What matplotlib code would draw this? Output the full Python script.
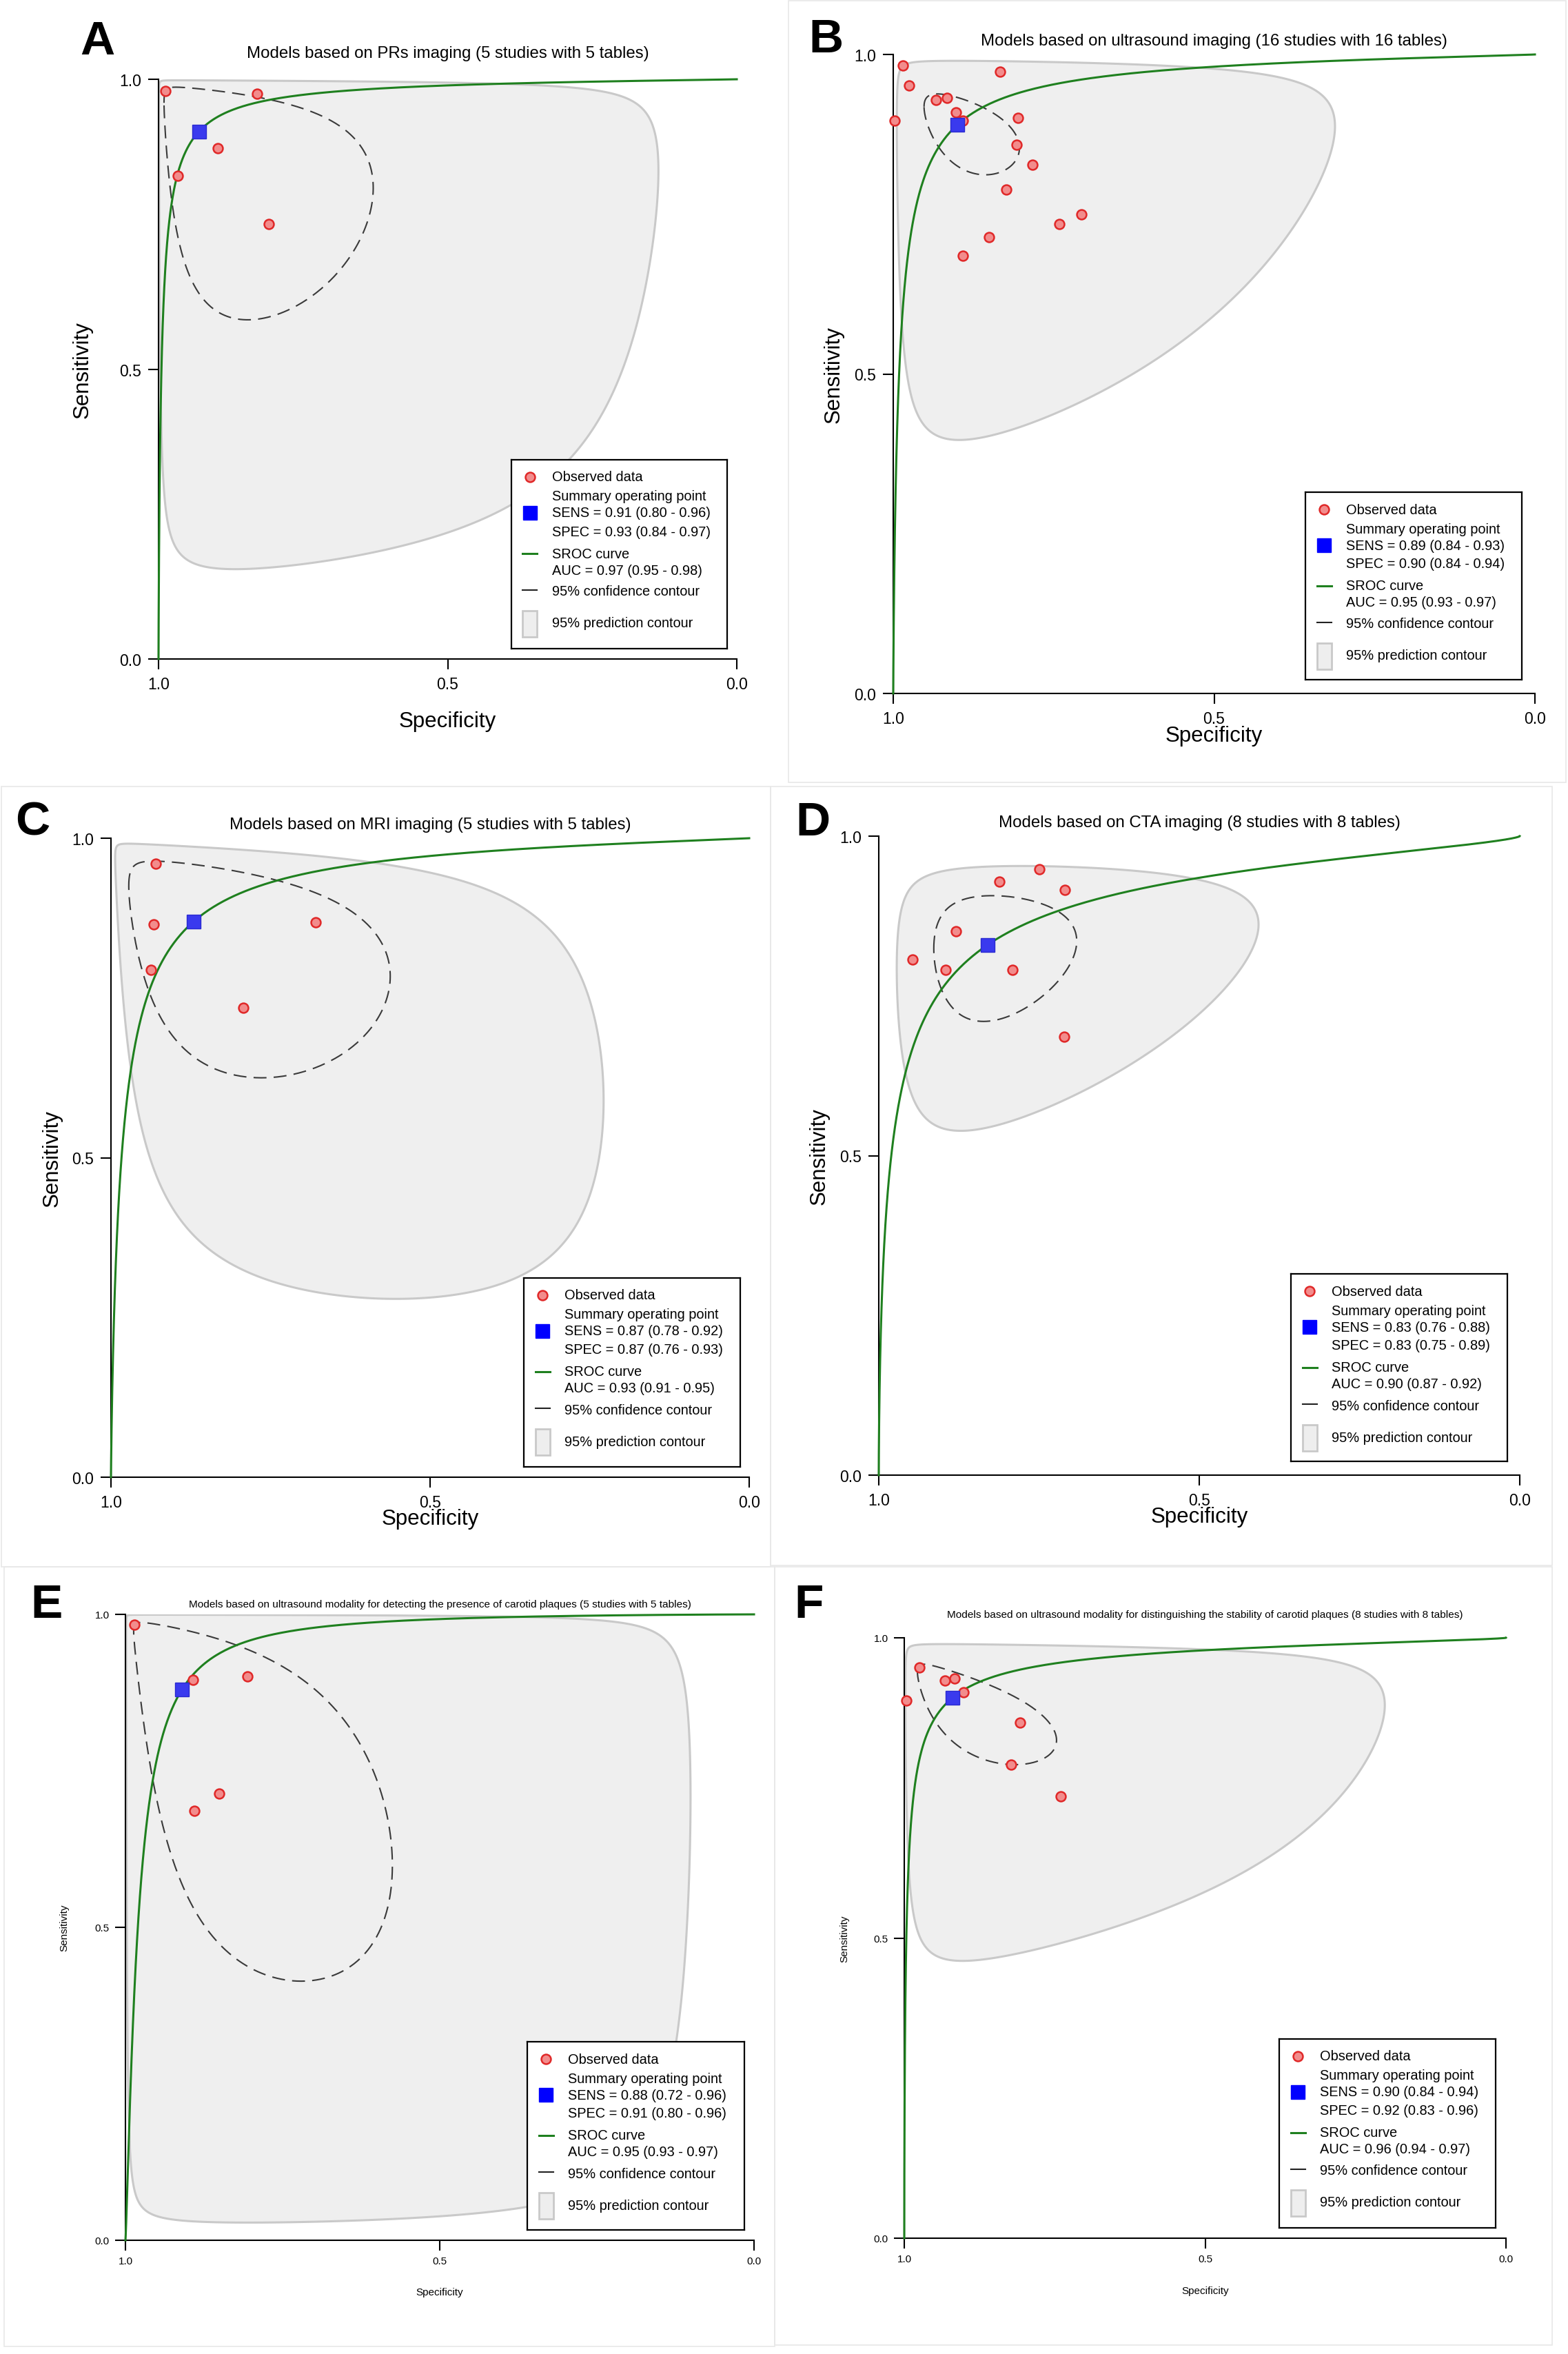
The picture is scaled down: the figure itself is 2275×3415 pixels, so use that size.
import numpy as np
import matplotlib
matplotlib.use('Agg')
import matplotlib.pyplot as plt
from matplotlib.patches import Polygon, Rectangle

plt.rcParams['font.family'] = ['Liberation Sans', 'DejaVu Sans']

W, H = 2275, 3416

# ---- data ----
letters = ['A', 'B', 'C', 'D', 'E', 'F']
titles = [
    'Models based on PRs imaging (5 studies with 5 tables)',
    'Models based on ultrasound imaging (16 studies with 16 tables)',
    'Models based on MRI imaging (5 studies with 5 tables)',
    'Models based on CTA imaging (8 studies with 8 tables)',
    'Models based on ultrasound modality for detecting the presence of carotid plaques (5 studies with 5 tables)',
    'Models based on ultrasound modality for distinguishing the stability of carotid plaques (8 studies with 8 tables)',
]

obs_spec = [
    [0.988, 0.829, 0.898, 0.967, 0.809],
    [0.985, 0.975, 0.998, 0.933, 0.916, 0.902, 0.891, 0.833, 0.806, 0.808,
     0.783, 0.824, 0.707, 0.741, 0.851, 0.891],
    [0.930, 0.933, 0.937, 0.793, 0.679],
    [0.750, 0.812, 0.710, 0.880, 0.947, 0.896, 0.791, 0.711],
    [0.986, 0.892, 0.806, 0.851, 0.890],
    [0.997, 0.975, 0.932, 0.916, 0.901, 0.807, 0.823, 0.740],
]
obs_sens = [
    [0.980, 0.975, 0.881, 0.834, 0.750],
    [0.983, 0.951, 0.896, 0.929, 0.932, 0.909, 0.896, 0.973, 0.901, 0.859,
     0.827, 0.789, 0.750, 0.735, 0.714, 0.685],
    [0.960, 0.865, 0.794, 0.735, 0.868],
    [0.948, 0.929, 0.916, 0.851, 0.807, 0.791, 0.791, 0.686],
    [0.983, 0.895, 0.901, 0.714, 0.686],
    [0.896, 0.951, 0.929, 0.932, 0.909, 0.859, 0.789, 0.736],
]

sum_sens = [0.91, 0.89, 0.87, 0.83, 0.88, 0.90]
sum_spec = [0.93, 0.90, 0.87, 0.83, 0.91, 0.92]
sens_ci = ['0.80 - 0.96', '0.84 - 0.93', '0.78 - 0.92', '0.76 - 0.88', '0.72 - 0.96', '0.84 - 0.94']
spec_ci = ['0.84 - 0.97', '0.84 - 0.94', '0.76 - 0.93', '0.75 - 0.89', '0.80 - 0.96', '0.83 - 0.96']
auc = ['0.97', '0.95', '0.93', '0.90', '0.95', '0.96']
auc_ci = ['0.95 - 0.98', '0.93 - 0.97', '0.91 - 0.95', '0.87 - 0.92', '0.93 - 0.97', '0.94 - 0.97']

# SROC slope on the logit scale, and contour half-widths / correlation (logit scale)
sroc_slope = [0.86, 0.84, 0.87, 0.68, 1.25, 0.68]
conf_w_spec = [2.06, 0.79, 1.65, 0.78, 2.01, 1.36]
conf_w_sens = [1.97, 0.63, 1.39, 0.69, 2.34, 0.88]
conf_rho = [0.43, 0.52, 0.44, -0.06, 0.68, 0.70]
pred_w_spec = [4.44, 2.99, 3.12, 1.96, 4.50, 3.82]
pred_w_sens = [4.01, 2.51, 2.85, 1.43, 5.53, 2.35]
pred_rho = [0.16, 0.01, 0.54, -0.17, 0.20, 0.055]


def logit(p):
    p = np.asarray(p, dtype=float)
    return np.log(p / (1 - p))


def expit(z):
    return 1 / (1 + np.exp(-z))


def contour(mx, my, wx, wy, rho):
    t = np.linspace(0, 2 * np.pi, 600)
    x = mx + wx * np.cos(t)
    y = my + wy * (rho * np.cos(t) + np.sqrt(1 - rho ** 2) * np.sin(t))
    return expit(x), expit(y)


fig = plt.figure(figsize=(W / 100, H / 100), dpi=100)


def px_axes(x0, y0, x1, y1):
    return fig.add_axes([x0 / W, 1 - y1 / H, (x1 - x0) / W, (y1 - y0) / H])


def ftext(x, y, s, **kw):
    fig.text(x / W, 1 - y / H, s, **kw)


# faint panel frames
for (x0, y0, x1, y1) in [(1144, 2, 2272, 1136), (2, 1142, 1118, 2274),
                         (1118, 1142, 2252, 2272), (6, 2274, 1124, 3405),
                         (1124, 2274, 2252, 3403)]:
    fig.add_artist(Rectangle((x0 / W, 1 - y1 / H), (x1 - x0) / W, (y1 - y0) / H,
                             transform=fig.transFigure, fill=False,
                             ec='#e8e8e8', lw=1.2))

# layout (pixels): axes box, title y, ylabel x, xlabel y, letter pos, legend box
ax_box = [(230, 116, 1069, 957), (1296, 80, 2227, 1007), (161, 1217, 1087, 2144),
          (1275, 1214, 2205, 2141), (182, 2343, 1094, 3251), (1312, 2377, 2185, 3248)]
title_y = [78, 60, 1197, 1194, 2328, 2343]
ylab_x = [120, 1210, 76, 1189, 93, 1225]
xlab_y = [1047, 1068, 2204, 2201, 3326, 3324]
letter_pos = [(116, 79), (1173, 76), (22, 1212), (1154, 1212), (44, 2347), (1152, 2347)]
leg_box = [(742, 668, 1055, 942), (1894, 715, 2208, 987), (760, 1855, 1074, 2129),
           (1873, 1849, 2187, 2121), (765, 2963, 1080, 3236), (1856, 2959, 2170, 3233)]

green = '#1f801f'

for i in range(6):
    small = i >= 4
    x0, y0, x1, y1 = ax_box[i]
    ax = px_axes(x0, y0, x1, y1)
    mx, my = logit(sum_spec[i]), logit(sum_sens[i])

    # prediction contour
    ps, pn = contour(mx, my, pred_w_spec[i], pred_w_sens[i], pred_rho[i])
    ax.add_patch(Polygon(np.column_stack([ps, pn]), closed=True, fc='#efefef',
                         ec='#c9c9c9', lw=2.2, zorder=1))
    # confidence contour
    cs, cn = contour(mx, my, conf_w_spec[i], conf_w_sens[i], conf_rho[i])
    ax.plot(cs, cn, color='#3a3a3a', lw=1.5, dashes=(9, 5), zorder=2)
    # SROC curve
    ls = np.linspace(-14, 14, 1500)
    sp = np.concatenate([[1.0], expit(ls)[::-1], [0.0]])
    se = np.concatenate([[0.0], expit(my + sroc_slope[i] * (mx - ls))[::-1], [1.0]])
    ax.plot(sp, se, color=green, lw=2.2, zorder=3, clip_on=False)
    # observed data
    ax.plot(obs_spec[i], obs_sens[i], 'o', ms=10, mfc='#f28c8c', mec='#e02828',
            mew=1.8, zorder=4, clip_on=False)
    # summary point
    ax.plot([sum_spec[i]], [sum_sens[i]], 's', ms=15, mfc='#3a3aee', mec='#2a2ad0',
            mew=1, zorder=5)

    ax.set_xlim(1, 0)
    ax.set_ylim(0, 1)
    ax.set_xticks([1.0, 0.5, 0.0])
    ax.set_yticks([0.0, 0.5, 1.0])
    ax.set_xticklabels(['1.0', '0.5', '0.0'])
    ax.set_yticklabels(['0.0', '0.5', '1.0'])
    for s in ['top', 'right']:
        ax.spines[s].set_visible(False)
    for s in ['left', 'bottom']:
        ax.spines[s].set_linewidth(1.5)
    ax.patch.set_alpha(0)
    ax.tick_params(direction='out', length=10.8, width=1.5,
                   labelsize=11 if small else 16.5, pad=6 if small else 7)

    cx = (x0 + x1) / 2
    ftext(cx, title_y[i], titles[i], ha='center', va='center',
          fontsize=11.1 if small else 17.3)
    ftext(ylab_x[i], (y0 + y1) / 2, 'Sensitivity', ha='center', va='center',
          rotation=90, fontsize=11 if small else 22.5)
    ftext(cx, xlab_y[i], 'Specificity', ha='center', va='center',
          fontsize=11 if small else 22.5)
    ftext(letter_pos[i][0], letter_pos[i][1], letters[i], ha='left', va='baseline',
          fontsize=50, fontweight='bold')

    # legend box
    lx0, ly0, lx1, ly1 = leg_box[i]
    lg = px_axes(lx0, ly0, lx1, ly1)
    lw_, lh_ = lx1 - lx0, ly1 - ly0
    lg.set_xlim(0, lw_)
    lg.set_ylim(lh_, 0)
    lg.set_xticks([])
    lg.set_yticks([])
    for s in lg.spines.values():
        s.set_linewidth(1.6)
    lg.plot([27], [25], 'o', ms=10, mfc='#f28c8c', mec='#e02828', mew=1.8)
    lg.plot([27], [77], 's', ms=15, mfc='#0000ff', mec='#0000ff')
    lg.plot([16.5, 37.5], [136, 136], color=green, lw=2.2)
    lg.plot([16.5, 37.5], [189, 189], color='#222222', lw=1.5)
    lg.add_patch(Rectangle((16.5, 219), 21, 38, fc='#eeeeee', ec='#c9c9c9', lw=2))
    rows = [(25, 'Observed data'),
            (53, 'Summary operating point'),
            (77, 'SENS = %.2f (%s)' % (sum_sens[i], sens_ci[i])),
            (104, 'SPEC = %.2f (%s)' % (sum_spec[i], spec_ci[i])),
            (136, 'SROC curve'),
            (160, 'AUC = %s (%s)' % (auc[i], auc_ci[i])),
            (191, '95% confidence contour'),
            (237, '95% prediction contour')]
    for yy, s in rows:
        lg.text(59, yy, s, va='center', ha='left', fontsize=14.4)

fig.savefig('out.png', dpi=100)
